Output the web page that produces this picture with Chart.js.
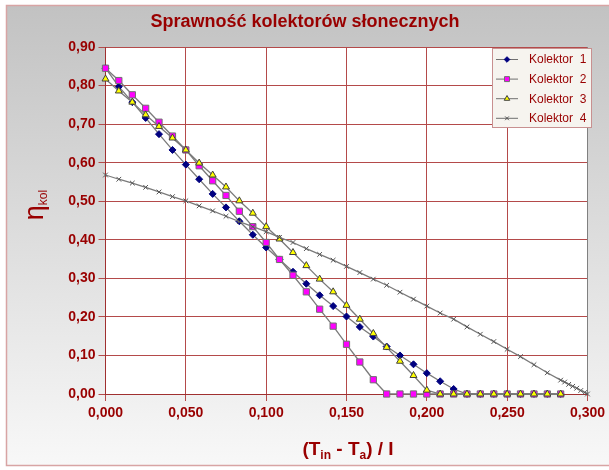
<!DOCTYPE html>
<html>
<head>
<meta charset="utf-8">
<script src="https://cdn.jsdelivr.net/npm/chart.js@4.4.1/dist/chart.umd.min.js"></script>
<style>
  html, body { margin: 0; padding: 0; background: #fff; }
</style>
</head>
<body>
<canvas id="chart" width="609" height="470"></canvas>
<script>
// x values (Tin - Ta) / I
const xValues = [0.0000, 0.0083, 0.0167, 0.0250, 0.0333, 0.0417, 0.0500, 0.0583, 0.0667, 0.0750,
                 0.0833, 0.0917, 0.1000, 0.1083, 0.1167, 0.1250, 0.1333, 0.1417, 0.1500, 0.1583,
                 0.1667, 0.1750, 0.1833, 0.1917, 0.2000, 0.2083, 0.2167, 0.2250, 0.2333, 0.2417,
                 0.2500, 0.2583, 0.2667, 0.2750, 0.2833];

const kolektor1 = [0.845, 0.797, 0.757, 0.716, 0.674, 0.633, 0.595, 0.557, 0.519, 0.484,
                   0.448, 0.413, 0.380, 0.349, 0.317, 0.286, 0.256, 0.228, 0.201, 0.174,
                   0.149, 0.123, 0.100, 0.077, 0.054, 0.033, 0.013, 0, 0, 0,
                   0, 0, 0, 0, 0];
const kolektor2 = [0.845, 0.813, 0.776, 0.741, 0.705, 0.669, 0.633, 0.592, 0.553, 0.515,
                   0.474, 0.434, 0.393, 0.349, 0.308, 0.265, 0.220, 0.176, 0.129, 0.083,
                   0.037, 0, 0, 0, 0, 0, 0, 0, 0, 0,
                   0, 0, 0, 0, 0];
const kolektor3 = [0.817, 0.786, 0.757, 0.724, 0.694, 0.664, 0.633, 0.599, 0.568, 0.537,
                   0.501, 0.469, 0.434, 0.402, 0.367, 0.333, 0.298, 0.265, 0.230, 0.194,
                   0.157, 0.121, 0.085, 0.048, 0.010, 0, 0, 0, 0, 0,
                   0, 0, 0, 0, 0];
const kolektor4 = [0.568, 0.557, 0.547, 0.536, 0.524, 0.512, 0.501, 0.488, 0.475, 0.461,
                   0.447, 0.434, 0.421, 0.406, 0.393, 0.377, 0.362, 0.347, 0.331, 0.315,
                   0.298, 0.282, 0.264, 0.246, 0.228, 0.210, 0.194, 0.174, 0.155, 0.136,
                   0.116, 0.097, 0.076, 0.055, 0.036];
// Kolektor 4 has extra, denser points at the end
const kolektor4TailX = [0.2858, 0.2883, 0.2908, 0.2933, 0.2958, 0.2983, 0.3000];
const kolektor4TailY = [0.031, 0.025, 0.020, 0.015, 0.009, 0.004, 0.000];

const seriesLabels = ["Kolektor  1", "Kolektor  2", "Kolektor  3", "Kolektor  4"];

const FONT = '"Liberation Sans", Arial, sans-serif';
const DARK_RED = "#990000";

function points(xs, ys) {
    return xs.map((x, i) => ({ x: x, y: ys[i] }));
}

const k4Points = points(xValues, kolektor4).concat(points(kolektor4TailX, kolektor4TailY));

const styles = [
    { pointStyle: "rectRot", radius: 3.5, bg: "#000080", border: "#000080" },
    { pointStyle: "rect", radius: 4.4, bg: "#ff00ff", border: "#707070" },
    { pointStyle: "triangle", radius: 4, bg: "#ffff00", border: "#404040" },
    { pointStyle: "crossRot", radius: 3.3, bg: "#555555", border: "#555555" }
];

function makeDataset(i, data, order) {
    const s = styles[i];
    return {
        label: seriesLabels[i],
        data: data,
        order: order,
        borderColor: "#7a7a7a",
        borderWidth: 1.3,
        pointStyle: s.pointStyle,
        pointRadius: s.radius,
        pointBackgroundColor: s.bg,
        pointBorderColor: s.border,
        pointBorderWidth: 1,
        tension: 0,
        clip: false
    };
}

// draws text made of normal and subscript parts, centred on (0,0) of the current transform
function drawParts(ctx, parts) {
    let total = 0;
    parts.forEach(p => { ctx.font = p.font; p.w = ctx.measureText(p.text).width; total += p.w; });
    let x = -total / 2;
    parts.forEach(p => {
        ctx.font = p.font;
        ctx.fillText(p.text, x, p.dy);
        x += p.w;
    });
}

const decorations = {
    id: "decorations",
    beforeDraw(chart) {
        const ctx = chart.ctx, a = chart.chartArea;
        ctx.save();
        ctx.fillStyle = "#ffffff";
        ctx.fillRect(0, 0, chart.width, chart.height);
        const g = ctx.createLinearGradient(0, 5, 0, 466);
        g.addColorStop(0, "#c2c2c2");
        g.addColorStop(1, "#f8f8f8");
        ctx.fillStyle = g;
        ctx.fillRect(6, 5, 620, 461);
        ctx.strokeStyle = "#d8a4a4";
        ctx.lineWidth = 1.5;
        ctx.strokeRect(6.5, 5.5, 620, 460);
        ctx.fillStyle = "#ffffff";
        ctx.fillRect(a.left, a.top, a.right - a.left, a.bottom - a.top);
        ctx.restore();
    },
    beforeDatasetsDraw(chart) {
        const ctx = chart.ctx, a = chart.chartArea;
        ctx.save();
        ctx.strokeStyle = "#808080";
        ctx.lineWidth = 1;
        ctx.beginPath();
        ctx.moveTo(Math.round(a.right) + 0.5, a.top);
        ctx.lineTo(Math.round(a.right) + 0.5, a.bottom);
        ctx.stroke();
        ctx.restore();
    },
    afterDraw(chart) {
        const ctx = chart.ctx;
        ctx.save();
        ctx.fillStyle = DARK_RED;
        ctx.textBaseline = "middle";
        ctx.textAlign = "center";

        // title
        ctx.font = "bold 18px " + FONT;
        ctx.fillText("Sprawność kolektorów słonecznych", 305, 22);

        // x axis title
        ctx.textAlign = "left";
        ctx.textBaseline = "alphabetic";
        ctx.save();
        ctx.translate(348, 455);
        drawParts(ctx, [
            { text: "(T", font: "bold 19px " + FONT, dy: 0 },
            { text: "in", font: "bold 12px " + FONT, dy: 4 },
            { text: " - T", font: "bold 19px " + FONT, dy: 0 },
            { text: "a", font: "bold 12px " + FONT, dy: 4 },
            { text: ") / I", font: "bold 19px " + FONT, dy: 0 }
        ]);
        ctx.restore();

        // y axis title
        ctx.save();
        ctx.translate(43, 205);
        ctx.rotate(-Math.PI / 2);
        drawParts(ctx, [
            { text: "η", font: "27px " + FONT, dy: 0 },
            { text: "kol", font: "12px " + FONT, dy: 4 }
        ]);
        ctx.restore();

        // legend
        const box = { x: 492.5, y: 48.5, w: 99, h: 79 };
        ctx.fillStyle = "#f6f4ef";
        ctx.fillRect(box.x, box.y, box.w, box.h);
        ctx.strokeStyle = "#c89090";
        ctx.lineWidth = 1;
        ctx.strokeRect(box.x, box.y, box.w, box.h);
        ctx.font = "12px " + FONT;
        ctx.textBaseline = "middle";
        chart.data.datasets.forEach((ds, i) => {
            const y = 59 + i * 19.6;
            ctx.strokeStyle = "#707070";
            ctx.lineWidth = 1;
            ctx.beginPath();
            ctx.moveTo(496, y + 0.5);
            ctx.lineTo(518, y + 0.5);
            ctx.stroke();
            ctx.fillStyle = styles[i].bg;
            ctx.strokeStyle = styles[i].border;
            Chart.helpers.drawPoint(ctx, { pointStyle: styles[i].pointStyle, radius: styles[i].radius * 0.8, rotation: 0, borderWidth: 1 }, 507, y + 0.5);
            ctx.fillStyle = DARK_RED;
            ctx.fillText(ds.label, 529, y + 1);
        });
        ctx.restore();
    }
};

const tickFont = { family: FONT, size: 14, weight: "bold" };

new Chart(document.getElementById("chart"), {
    type: "line",
    data: {
        datasets: [
            makeDataset(0, points(xValues, kolektor1), 4),
            makeDataset(1, points(xValues, kolektor2), 3),
            makeDataset(2, points(xValues, kolektor3), 2),
            makeDataset(3, k4Points, 1)
        ]
    },
    options: {
        responsive: false,
        animation: false,
        devicePixelRatio: 1,
        events: [],
        layout: { padding: { left: 0, right: 18, top: 47, bottom: 0 } },
        plugins: {
            legend: { display: false },
            title: { display: false },
            tooltip: { enabled: false }
        },
        scales: {
            x: {
                type: "linear",
                min: 0,
                max: 0.3,
                afterFit: s => { s.height = 76; },
                ticks: {
                    stepSize: 0.05,
                    autoSkip: false,
                    maxRotation: 0,
                    padding: 4,
                    color: DARK_RED,
                    font: tickFont,
                    callback: v => v.toFixed(3).replace(".", ",")
                },
                grid: { color: "#b44a4a", tickColor: "#b44a4a", tickLength: 7, lineWidth: 1 },
                border: { color: "#a03030" }
            },
            y: {
                min: 0,
                max: 0.9,
                afterFit: s => { s.width = 105.5; },
                ticks: {
                    stepSize: 0.1,
                    padding: 3,
                    color: DARK_RED,
                    font: tickFont,
                    callback: v => v.toFixed(2).replace(".", ",")
                },
                grid: { color: "#b44a4a", tickColor: "#b44a4a", tickLength: 7, lineWidth: 1 },
                border: { color: "#a03030" }
            }
        }
    },
    plugins: [decorations]
});
</script>
</body>
</html>
